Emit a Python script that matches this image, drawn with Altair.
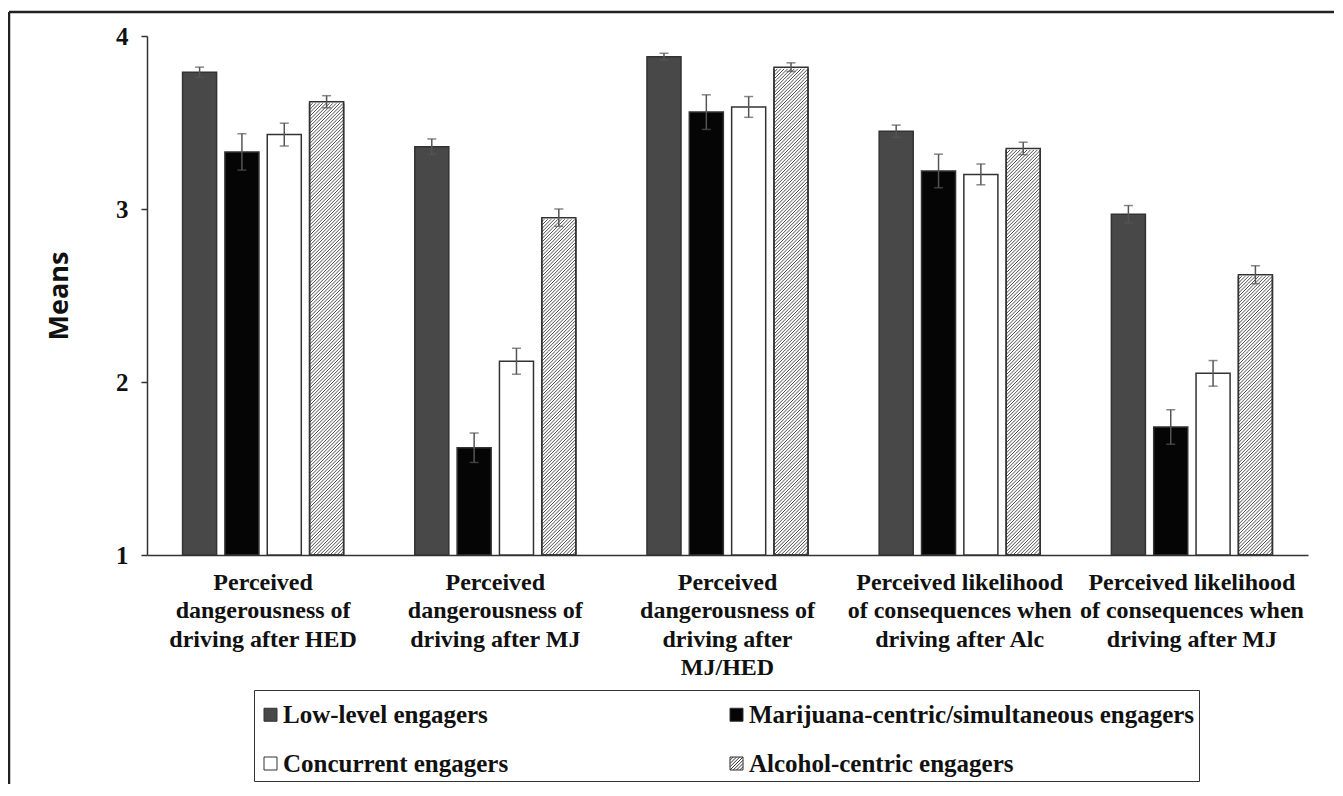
import altair as alt
import pandas as pd

# ---------------- data ----------------
categories = [
    "Perceived\ndangerousness of\ndriving after HED",
    "Perceived\ndangerousness of\ndriving after MJ",
    "Perceived\ndangerousness of\ndriving after\nMJ/HED",
    "Perceived likelihood\nof consequences when\ndriving after Alc",
    "Perceived likelihood\nof consequences when\ndriving after MJ",
]
series = [
    "Low-level engagers",
    "Marijuana-centric/simultaneous engagers",
    "Concurrent engagers",
    "Alcohol-centric engagers",
]
low_level = [3.79, 3.36, 3.88, 3.45, 2.97]
mj_centric = [3.33, 1.62, 3.56, 3.22, 1.74]
concurrent = [3.43, 2.12, 3.59, 3.20, 2.05]
alc_centric = [3.62, 2.95, 3.82, 3.35, 2.62]

low_level_se = [0.03, 0.045, 0.02, 0.035, 0.05]
mj_centric_se = [0.105, 0.085, 0.10, 0.097, 0.10]
concurrent_se = [0.066, 0.075, 0.06, 0.06, 0.074]
alc_centric_se = [0.035, 0.05, 0.025, 0.036, 0.052]

means = [low_level, mj_centric, concurrent, alc_centric]
ses = [low_level_se, mj_centric_se, concurrent_se, alc_centric_se]

rows = []
for s, m_list, e_list in zip(series, means, ses):
    for c, m, e in zip(categories, m_list, e_list):
        rows.append({"category": c, "series": s, "mean": m, "se": e})
df = pd.DataFrame(rows)

# ---------------- styling ----------------
W, H = 1161, 519
fills = ["#484848", "#050505", "#ffffff", "#ffffff"]
SERIF = "'Liberation Serif', 'DejaVu Serif', 'Times New Roman', serif"
EDGE = "#333333"

# hatch tile (34 x 34 px square of "/" lines), unit coords [-1, 1]
step = 0.2
segs = []
k = 1
while -2 + k * step < 2 - 1e-9:
    c = -2 + k * step
    if c <= 0:
        segs.append(f"M-1,{c + 1:.3f}L{c + 1:.3f},-1")
    else:
        segs.append(f"M{c - 1:.3f},1L1,{c - 1:.3f}")
    k += 1
TILE = "".join(segs)
TILE_PX = 34
TILE_U = TILE_PX / (H / 3.0)  # tile height in data units

# legend symbol path with hatch
leg_lines = []
for c in [-1.5, -1.0, -0.5, 0.0, 0.5, 1.0, 1.5]:
    if c <= 0:
        leg_lines.append(f"M-1,{c + 1}L{c + 1},-1")
    else:
        leg_lines.append(f"M{c - 1},1L1,{c - 1}")
HATCH_SYMBOL = "M-1,-1H1V1H-1Z" + "".join(leg_lines)
shapes = ["square", "square", "square", HATCH_SYMBOL]

legend = alt.Legend(
    title=" ",
    titleFontSize=6,
    titlePadding=2,
    orient="none",
    legendX=107,
    legendY=654,
    direction="horizontal",
    columns=2,
    columnPadding=215,
    rowPadding=23,
    padding=4,
    strokeColor="#333333",
    fillColor="#ffffff",
    labelFont=SERIF,
    labelFontWeight="bold",
    labelFontSize=25,
    labelColor="#111111",
    labelLimit=700,
    labelOffset=0,
    symbolOffset=0,
    symbolSize=169,
    symbolStrokeColor="#333333",
    symbolStrokeWidth=1,
)

x_enc = alt.X(
    "category:N",
    sort=categories,
    scale=alt.Scale(paddingInner=0, paddingOuter=0),
    axis=alt.Axis(
        title=None,
        ticks=False,
        labelAngle=0,
        labelFont=SERIF,
        labelFontWeight="bold",
        labelFontSize=24,
        labelColor="#111111",
        labelPadding=15,
        labelLineHeight=28.5,
        labelExpr="split(datum.label, '\\n')",
        labelOverlap=False,
        labelLimit=0,
        domainColor=EDGE,
        domainWidth=1.5,
    ),
)
xo_enc = alt.XOffset(
    "series:N",
    sort=series,
    scale=alt.Scale(domain=series, paddingInner=0.196, paddingOuter=0.84),
)
y_scale = alt.Scale(domain=[1, 4], zero=False, nice=False)
y_axis = alt.Axis(
    values=[1, 2, 3, 4],
    format="d",
    grid=False,
    title="Means",
    titleFont="Open Sans",
    titleFontWeight="bold",
    titleFontSize=27,
    titleColor="#111111",
    titleX=-88,
    titleY=H / 2,
    titleAlign="center",
    titleBaseline="middle",
    titleAngle=270,
    labelFont=SERIF,
    labelFontWeight="bold",
    labelFontSize=25,
    labelColor="#111111",
    labelPadding=13,
    tickSize=6,
    tickWidth=1.5,
    tickColor=EDGE,
    domainColor=EDGE,
    domainWidth=1.5,
)

base = alt.Chart(df)

bars = base.mark_bar(stroke=EDGE, strokeWidth=1.5).encode(
    x=x_enc,
    xOffset=xo_enc,
    y=alt.Y("mean:Q", scale=y_scale, axis=y_axis),
    y2=alt.datum(1),
    fill=alt.Fill("series:N", scale=alt.Scale(domain=series, range=fills), legend=legend),
)

alc = base.transform_filter(alt.datum.series == series[3])

hatch = alc.transform_calculate(
    ks=f"sequence(0, ceil((datum.mean - 1) / {TILE_U}))"
).transform_flatten(["ks"]).transform_calculate(
    ty=f"1 + (datum.ks + 0.5) * {TILE_U}"
).mark_point(
    shape=TILE, size=TILE_PX * TILE_PX, filled=False, stroke="#3a3a3a",
    strokeWidth=0.9, opacity=1,
).encode(
    x=alt.X("category:N", sort=categories),
    xOffset=alt.XOffset("series:N", sort=series),
    y=alt.Y("ty:Q"),
)

cover = alc.transform_calculate(top="datum.mean + 0.25").mark_bar(
    fill="#ffffff", stroke="#ffffff", strokeWidth=3
).encode(
    x=alt.X("category:N", sort=categories),
    xOffset=alt.XOffset("series:N", sort=series),
    y=alt.Y("mean:Q"),
    y2=alt.Y2("top:Q"),
)

outline = alc.mark_bar(fillOpacity=0, stroke=EDGE, strokeWidth=1.5).encode(
    x=alt.X("category:N", sort=categories),
    xOffset=alt.XOffset("series:N", sort=series),
    y=alt.Y("mean:Q"),
    y2=alt.datum(1),
)

err = base.transform_calculate(lo="datum.mean - datum.se", hi="datum.mean + datum.se")
err_rule = err.mark_rule(color="#555555", strokeWidth=1.5).encode(
    x=alt.X("category:N", sort=categories),
    xOffset=alt.XOffset("series:N", sort=series),
    y=alt.Y("lo:Q"),
    y2=alt.Y2("hi:Q"),
)
cap_lo = err.mark_tick(color="#555555", thickness=1.5, size=9, orient="horizontal").encode(
    x=alt.X("category:N", sort=categories),
    xOffset=alt.XOffset("series:N", sort=series),
    y=alt.Y("lo:Q"),
)
cap_hi = err.mark_tick(color="#555555", thickness=1.5, size=9, orient="horizontal").encode(
    x=alt.X("category:N", sort=categories),
    xOffset=alt.XOffset("series:N", sort=series),
    y=alt.Y("hi:Q"),
)

legend_pts = base.transform_filter("false").mark_point(
    filled=True, stroke=EDGE, strokeWidth=1, opacity=1
).encode(
    x=alt.X("category:N", sort=categories),
    y=alt.Y("mean:Q"),
    fill=alt.Fill("series:N", scale=alt.Scale(domain=series, range=fills), legend=legend),
    shape=alt.Shape("series:N", scale=alt.Scale(domain=series, range=shapes), legend=legend),
)

one = pd.DataFrame({"k": [0]})
frame_top = alt.Chart(one).mark_rule(color="#222222", strokeWidth=2.5).encode(
    x=alt.value(-138), x2=alt.value(W + 60), y=alt.value(-24)
)
frame_left = alt.Chart(one).mark_rule(color="#222222", strokeWidth=2.5).encode(
    x=alt.value(-138), y=alt.value(-24), y2=alt.value(H + 300)
)

chart = alt.layer(
    bars, hatch, cover, outline, err_rule, cap_lo, cap_hi, legend_pts, frame_top, frame_left
).properties(
    width=W,
    height=H,
    autosize=alt.AutoSizeParams(type="none"),
    padding={"left": 139, "top": 28, "right": 26, "bottom": 229},
    background="#ffffff",
).configure_view(strokeWidth=0)

chart.save("out.html", embed_options={"renderer": "svg", "actions": False})
